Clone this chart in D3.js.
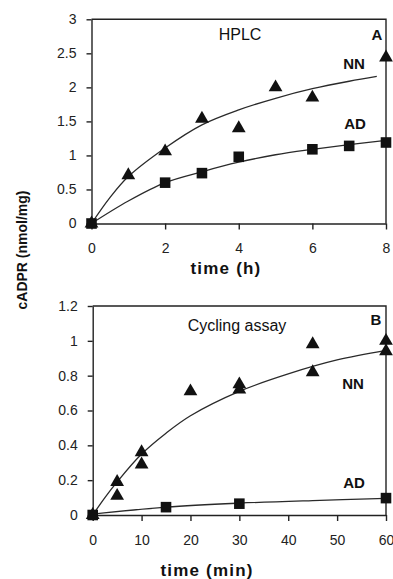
<!DOCTYPE html>
<html>
<head>
<meta charset="UTF-8">
<title>cADPR time course</title>
<script src="https://d3js.org/d3.v7.min.js"></script>
<style>
  body { margin: 0; background: #fff; }
  svg { font-family: "Liberation Sans", Arial, sans-serif; }
  .axis path, .axis line, .frame { stroke: #222; stroke-width: 1.4; fill: none; }
  .axis text { font-size: 14px; fill: #222; }
  .fit { fill: none; stroke: #2a2a2a; stroke-width: 1.3; }
  .mark { fill: #111; }
  .lbl { font-size: 16px; fill: #111; }
  .tag { font-size: 15px; font-weight: bold; fill: #111; }
  .xtitle { font-size: 17px; font-weight: bold; letter-spacing: 1.2px; fill: #111; }
  .ytitle { font-size: 14px; font-weight: bold; fill: #111; }
</style>
</head>
<body>
<script>
// panel A: HPLC, time in hours
var hplcTimeNN = [0, 1, 2, 3, 4, 5, 6, 8];
var hplcNN = [0, 0.71, 1.06, 1.54, 1.40, 2.00, 1.85, 2.44];
var hplcTimeAD = [0, 2, 3, 4, 6, 7, 8];
var hplcAD = [0, 0.60, 0.74, 0.98, 1.09, 1.14, 1.19];
// fitted curves
var hplcFitTimeNN = [0, 0.5, 1, 2, 3, 4, 5, 6, 7, 7.75];
var hplcFitNN = [0, 0.38, 0.69, 1.11, 1.45, 1.67, 1.84, 1.98, 2.09, 2.16];
var hplcFitTimeAD = [0, 1, 2, 3, 4, 5, 6, 7, 8];
var hplcFitAD = [0, 0.33, 0.6, 0.76, 0.9, 1.01, 1.09, 1.16, 1.22];

// panel B: cycling assay, time in minutes
var cycTimeNN = [0, 5, 5, 10, 10, 20, 30, 30, 45, 45, 60, 60];
var cycNN = [0, 0.19, 0.11, 0.36, 0.29, 0.71, 0.75, 0.72, 0.98, 0.82, 1.0, 0.94];
var cycTimeAD = [0, 15, 30, 60];
var cycAD = [0, 0.045, 0.065, 0.097];
var cycFitTimeNN = [0, 2.5, 5, 10, 15, 20, 30, 40, 50, 60];
var cycFitNN = [0, 0.1, 0.19, 0.35, 0.47, 0.57, 0.71, 0.81, 0.89, 0.945];
var cycFitTimeAD = [0, 15, 30, 45, 60];
var cycFitAD = [0.005, 0.045, 0.068, 0.083, 0.095];

var hplcXTicks = [0, 2, 4, 6, 8];
var hplcYTicks = [0, 0.5, 1, 1.5, 2, 2.5, 3];
var cycXTicks = [0, 10, 20, 30, 40, 50, 60];
var cycYTicks = [0, 0.2, 0.4, 0.6, 0.8, 1, 1.2];

var width = 393, height = 579;
var svg = d3.select("body").append("svg")
    .attr("width", width)
    .attr("height", height);

function zip(xs, ys) {
    return xs.map(function (x, i) { return [x, ys[i]]; });
}

function panel(opt) {
    var x = d3.scaleLinear().domain(opt.xDomain).range(opt.xRange);
    var y = d3.scaleLinear().domain(opt.yDomain).range(opt.yRange);
    var g = svg.append("g");

    g.append("g")
        .attr("class", "axis")
        .attr("transform", "translate(0," + opt.yRange[0] + ")")
        .call(d3.axisBottom(x).tickValues(opt.xTicks).tickSize(6).tickPadding(14).tickSizeOuter(0)
            .tickFormat(d3.format("")));

    g.append("g")
        .attr("class", "axis")
        .attr("transform", "translate(" + opt.xRange[0] + ",0)")
        .call(d3.axisLeft(y).tickValues(opt.yTicks).tickSize(5).tickPadding(10).tickSizeOuter(0)
            .tickFormat(d3.format("")));

    // top and right border
    g.append("path")
        .attr("class", "frame")
        .attr("d", "M" + opt.xRange[0] + "," + opt.yRange[1] + "H" + opt.xRange[1] + "V" + opt.yRange[0]);

    var line = d3.line()
        .x(function (d) { return x(d[0]); })
        .y(function (d) { return y(d[1]); })
        .curve(d3.curveCatmullRom.alpha(0.5));

    opt.fits.forEach(function (f) {
        g.append("path").attr("class", "fit").attr("d", line(f));
    });

    var tri = d3.symbol().type(d3.symbolTriangle).size(82);
    var sq = d3.symbol().type(d3.symbolSquare).size(112);

    g.selectAll(".tri").data(opt.nn).enter().append("path")
        .attr("class", "mark")
        .attr("d", tri)
        .attr("transform", function (d) { return "translate(" + x(d[0]) + "," + y(d[1]) + ")"; });

    g.selectAll(".sq").data(opt.ad).enter().append("path")
        .attr("class", "mark")
        .attr("d", sq)
        .attr("transform", function (d) { return "translate(" + x(d[0]) + "," + y(d[1]) + ")"; });

    opt.labels.forEach(function (l) {
        g.append("text")
            .attr("class", l.cls)
            .attr("x", l.x).attr("y", l.y)
            .attr("text-anchor", "middle")
            .attr("dominant-baseline", "central")
            .text(l.t);
    });

    g.append("text")
        .attr("class", "xtitle")
        .attr("x", opt.titleX).attr("y", opt.titleY)
        .attr("text-anchor", "middle")
        .attr("dominant-baseline", "central")
        .text(opt.title);
}

panel({
    xDomain: [0, 8], xRange: [91.5, 386],
    yDomain: [0, 3], yRange: [223.5, 19.3],
    xTicks: hplcXTicks, yTicks: hplcYTicks,
    nn: zip(hplcTimeNN, hplcNN),
    ad: zip(hplcTimeAD, hplcAD),
    fits: [zip(hplcFitTimeNN, hplcFitNN), zip(hplcFitTimeAD, hplcFitAD)],
    labels: [
        { t: "HPLC", x: 240, y: 34, cls: "lbl" },
        { t: "A", x: 377, y: 34, cls: "tag" },
        { t: "NN", x: 354, y: 63, cls: "tag" },
        { t: "AD", x: 355, y: 123, cls: "tag" }
    ],
    title: "time (h)", titleX: 226, titleY: 268
});

panel({
    xDomain: [0, 60], xRange: [92.7, 386],
    yDomain: [0, 1.2], yRange: [515, 306],
    xTicks: cycXTicks, yTicks: cycYTicks,
    nn: zip(cycTimeNN, cycNN),
    ad: zip(cycTimeAD, cycAD),
    fits: [zip(cycFitTimeNN, cycFitNN), zip(cycFitTimeAD, cycFitAD)],
    labels: [
        { t: "Cycling assay", x: 237, y: 325, cls: "lbl" },
        { t: "B", x: 376, y: 319, cls: "tag" },
        { t: "NN", x: 353, y: 383, cls: "tag" },
        { t: "AD", x: 354, y: 482, cls: "tag" }
    ],
    title: "time (min)", titleX: 207, titleY: 570
});

// shared y axis title
svg.append("text")
    .attr("class", "ytitle")
    .attr("transform", "translate(27,250) rotate(-90)")
    .attr("text-anchor", "middle")
    .text("cADPR  (nmol/mg)");
</script>
</body>
</html>
